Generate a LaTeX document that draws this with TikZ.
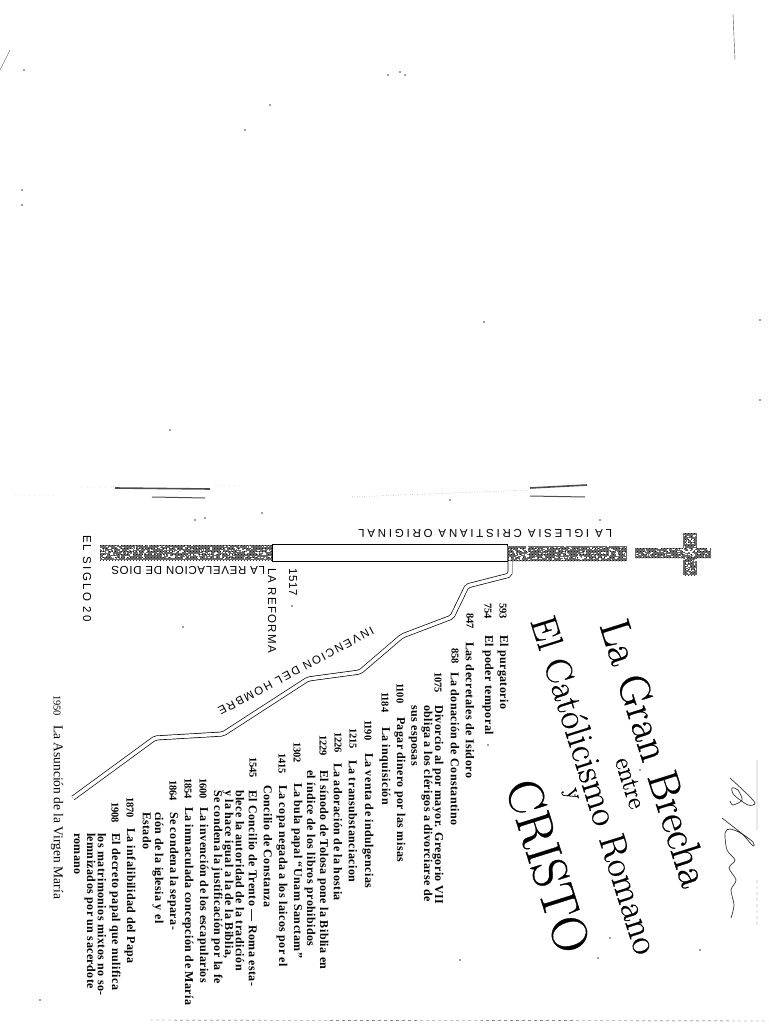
\documentclass[tikz,border=0pt]{standalone}
\usepackage{fontspec}
\usepackage{tikz}
\usetikzlibrary{patterns,positioning}
\newfontfamily\yearfont{Liberation Serif}
\newfontfamily\entryfont[LetterSpace=3.5]{Liberation Serif}
\newfontfamily\capfont{Liberation Sans}
\newfontfamily\titlefont[FakeBold=0.6]{Latin Modern Roman}
\begin{document}
\begin{tikzpicture}[x=1pt,y=-1pt]
\tikzstyle{every node}=[inner sep=0pt,outer sep=0pt]
\tikzstyle{yearlbl}=[rotate=-90,anchor=west,font=\yearfont\fontsize{10.5}{10.5}\selectfont\bfseries]
\tikzstyle{entrylbl}=[rotate=-90,anchor=west,font=\entryfont\fontsize{12}{12}\selectfont\bfseries]
\tikzstyle{caplbl}=[font=\capfont\fontsize{11.5}{11.5}\selectfont]
\tikzstyle{titlelbl}=[rotate=-72.5,font=\titlefont\fontsize{43}{43}\selectfont]
\tikzstyle{grainbar}=[fill=black!55,postaction={pattern=crosshatch dots,pattern color=black}]
\useasboundingbox (0,0) rectangle (768,1024);
% cross and bars
\draw[line width=0.8pt] (272,544) rectangle (507,561);
\fill[grainbar] (683,533) rectangle (697,575);
\fill[grainbar] (635,548) rectangle (711,558);
\fill[grainbar] (507,546) rectangle (627,561);
\fill[grainbar] (100,545) rectangle (272,560);
\pgfmathsetseed{517}
\foreach \i in {1,...,260} \fill[white] ({100+rnd*170},{545+rnd*13}) rectangle ++(1.6,1.3);
\foreach \i in {1,...,180} \fill[white] ({507+rnd*118},{546+rnd*13}) rectangle ++(1.6,1.3);
\foreach \i in {1,...,60} \fill[white] ({683+rnd*12},{533+rnd*40}) rectangle ++(1.6,1.3);
\foreach \i in {1,...,70} \fill[white] ({635+rnd*74},{548+rnd*8}) rectangle ++(1.6,1.3);
% the double line
\coordinate (p0) at (510,561);
\coordinate (p1) at (510,575);
\coordinate (p2) at (467,586);
\coordinate (p3) at (452,617);
\coordinate (p4) at (402,636);
\coordinate (p5) at (360,672);
\coordinate (p6) at (308,679);
\coordinate (p7) at (223,734);
\coordinate (p8) at (155,738);
\coordinate (p9) at (73,798);
\draw[double,double distance=3.5pt,line width=0.7pt,rounded corners=2pt]
  (p0) -- (p1) -- (p2) -- (p3) -- (p4) -- (p5) -- (p6) -- (p7) -- (p8) -- (p9);
% captions
\node[caplbl,rotate=180,anchor=west] (orig) at (612,533) {\addfontfeature{LetterSpace=24}LA IGLESIA CRISTIANA ORIGINAL};
\node[caplbl,rotate=180,anchor=west] (rev) at (265,570) {\addfontfeature{LetterSpace=6}LA REVELACION DE DIOS};
\node[caplbl,rotate=-90,anchor=west] (y1517) at (293,568) {\addfontfeature{LetterSpace=6}1517};
\node[caplbl,rotate=-90,anchor=west] (ref) at (272,568) {\addfontfeature{LetterSpace=11}LA REFORMA};
\node[caplbl,rotate=-90,anchor=west] (siglo) at (87,535) {\addfontfeature{LetterSpace=20}EL SIGLO 20};
\node[caplbl,rotate=208] (inv) at (296,671) {\addfontfeature{LetterSpace=16}INVENCION DEL HOMBRE};
% title
\node[titlelbl] (gran) at (655,753) {La Gran Brecha};
\node[titlelbl,font=\titlefont\fontsize{26}{26}\selectfont] (entre) at (630,783) {entre};
\node[titlelbl,font=\titlefont\fontsize{37}{37}\selectfont] (catol) at (595,785) {El Católicismo Romano};
\node[titlelbl,font=\titlefont\fontsize{24}{24}\selectfont] (yy) at (570,795) {y};
\node[titlelbl,font=\titlefont\fontsize{50}{50}\selectfont] (cristo) at (548,866) {CRISTO};
% dates
\node[yearlbl] (a593) at (503,603) {593};
\node[entrylbl] (b593) at (503,635) {El purgatorio};
\node[yearlbl] (a754) at (488,603) {754};
\node[entrylbl] (b754) at (488,635) {El poder temporal};
\node[yearlbl] (a847) at (470,613) {847};
\node[entrylbl] (b847) at (470,642) {Las decretales de Isidoro};
\node[yearlbl] (a858) at (455,648) {858};
\node[entrylbl] (b858) at (455,672) {La donación de Constantino};
\node[yearlbl] (a1075) at (438,672) {1075};
\node[entrylbl] (b1075) at (438,705) {Divorcio al por mayor. Gregorio VII};
\node[entrylbl] (c1075) at (427,705) {obliga a los clérigos a divorciarse de};
\node[entrylbl] (d1075) at (413,705) {sus esposas};
\node[yearlbl] (a1100) at (400,683) {1100};
\node[entrylbl] (b1100) at (400,717) {Pagar dinero por las misas};
\node[yearlbl] (a1184) at (385,692) {1184};
\node[entrylbl] (b1184) at (385,727) {La inquisición};
\node[yearlbl] (a1190) at (368,720) {1190};
\node[entrylbl] (b1190) at (368,753) {La venta de indulgencias};
\node[yearlbl] (a1215) at (353,728) {1215};
\node[entrylbl] (b1215) at (353,760) {La transubstanciacion};
\node[yearlbl] (a1226) at (338,732) {1226};
\node[entrylbl] (b1226) at (338,763) {La adoración de la hostia};
\node[yearlbl] (a1229) at (323,735) {1229};
\node[entrylbl] (b1229) at (323,770) {El sínodo de Tolosa pone la Biblia en};
\node[entrylbl] (c1229) at (310,770) {el índice de los libros prohibidos};
\node[yearlbl] (a1302) at (297,742) {1302};
\node[entrylbl] (b1302) at (297,783) {La bula papal “Unam Sanctam”};
\node[yearlbl] (a1415) at (282,753) {1415};
\node[entrylbl] (b1415) at (282,785) {La copa negada a los laicos por el};
\node[entrylbl] (c1415) at (268,785) {Concilio de Constanza};
\node[yearlbl] (a1545) at (253,757) {1545};
\node[entrylbl] (b1545) at (253,790) {El Concilio de Trento — Roma esta-};
\node[entrylbl] (c1545) at (240,790) {blece la autoridad de la tradición};
\node[entrylbl] (d1545) at (228,790) {y la hace igual a la de la Biblia,};
\node[entrylbl] (e1545) at (217,790) {Se condena la justificación por la fe};
\node[yearlbl] (a1600) at (203,778) {1600};
\node[entrylbl] (b1600) at (203,807) {La invención de los escapularios};
\node[yearlbl] (a1854) at (188,778) {1854};
\node[entrylbl] (b1854) at (188,807) {La inmaculada concepción de María};
\node[yearlbl] (a1864) at (173,780) {1864};
\node[entrylbl] (b1864) at (173,812) {Se condena la separa-};
\node[entrylbl] (c1864) at (158,812) {ción de la iglesia y el};
\node[entrylbl] (d1864) at (147,812) {Estado};
\node[yearlbl] (a1870) at (130,797) {1870};
\node[entrylbl] (b1870) at (130,828) {La infalibilidad del Papa};
\node[yearlbl] (a1908) at (115,802) {1908};
\node[entrylbl] (b1908) at (115,833) {El decreto papal que nulifica};
\node[entrylbl] (c1908) at (102,833) {los matrimonios mixtos no so-};
\node[entrylbl] (d1908) at (90,833) {lemnizados por un sacerdote};
\node[entrylbl] (e1908) at (77,833) {romano};
\node[yearlbl,font=\yearfont\fontsize{10.5}{10.5}\selectfont] (a1950) at (57,695) {1950};
\node[entrylbl,font=\yearfont\fontsize{13.5}{13.5}\selectfont] (b1950) at (57,725) {La Asunción de la Virgen María};
% signature
\draw[line width=0.7pt,black!80] plot[smooth] coordinates {(730,778) (745,792) (755,803) (748,805)
  (734,795) (732,788) (738,790) (742,800) (733,805) (730,801)};
\draw[line width=0.7pt,black!80] plot[smooth] coordinates {(722,818) (740,832) (753,842) (753,846)
  (742,834) (730,829) (725,833) (727,850) (735,860) (729,868) (736,880) (731,890) (734,905) (731,918)};
% scan marks
\draw[line width=1.6pt,black!70] (115,488) -- (210,489);
\draw[line width=1pt,black!70] (152,497) -- (205,498);
\draw[line width=1.6pt,black!70] (530,488) -- (587,485);
\draw[line width=1pt,black!70] (530,496) -- (585,497);
\draw[dotted,black!60] (80,487) -- (115,487) (15,495) -- (55,495) (215,486) -- (240,486)
  (350,497) -- (530,490);
\draw[black!70] (733,14) -- (735,60) (0,70) -- (10,50) (757,760) -- (757,830);
\draw[dashed,black!70] (150,1020) -- (768,1021) (757,880) -- (757,925);
\foreach \px/\py in {22/190,22/205,400/72,388/75,405/75,270/105,484/322,760/320,760/400,
  170/430,195/520,205/518,262/513,292/606,183/627,420/530,575/795,488/745,640/770,
  598/958,610/938,460/960,24/70,700/950,40/1000,90/965,450/500,600/520,245/130}
  \fill[black!75] (\px,\py) circle (0.9);
\end{tikzpicture}
\end{document}
